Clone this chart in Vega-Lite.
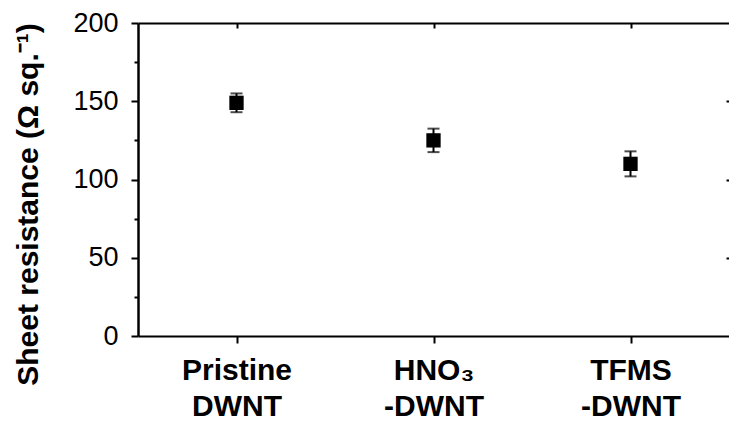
{
  "$schema": "https://vega.github.io/schema/vega-lite/v6.json",
  "autosize": "none",
  "width": 591,
  "height": 313,
  "padding": {"left": 138, "top": 23, "right": 0, "bottom": 85},
  "background": "white",
  "config": {
    "view": {"stroke": null},
    "font": "Liberation Sans",
    "axis": {"domain": true, "domainColor": "black", "domainWidth": 2, "tickColor": "black", "tickWidth": 1.5, "labelColor": "black", "titleColor": "black", "grid": false}
  },
  "data": {
    "values": [
      {"cat": "Pristine DWNT", "mean": 149, "lo": 143, "hi": 155},
      {"cat": "HNO₃ -DWNT", "mean": 125, "lo": 117.5, "hi": 132.5},
      {"cat": "TFMS -DWNT", "mean": 110, "lo": 102, "hi": 118}
    ]
  },
  "encoding": {
    "x": {"field": "cat", "type": "nominal", "sort": null,
          "scale": {"type": "point", "padding": 0.5}}
  },
  "layer": [
    {
      "mark": {"type": "rule", "color": "black", "strokeWidth": 2},
      "encoding": {
        "x": {"field": "cat", "type": "nominal", "sort": null,
              "axis": {"orient": "top", "labels": false, "title": null, "tickSize": -5, "tickWidth": 2}},
        "y": {"field": "lo", "type": "quantitative",
              "scale": {"domain": [0, 200], "nice": false, "zero": true},
              "axis": {"orient": "right", "domain": false, "labels": false, "title": null, "values": [50, 100, 150], "tickSize": -3, "tickWidth": 2}},
        "y2": {"field": "hi"}
      }
    },
    {
      "mark": {"type": "tick", "color": "black", "size": 12, "thickness": 2},
      "encoding": {
        "x": {"field": "cat", "type": "nominal", "sort": null, "axis": null},
        "y": {"field": "lo", "type": "quantitative", "axis": null}
      }
    },
    {
      "mark": {"type": "tick", "color": "black", "size": 12, "thickness": 2},
      "encoding": {
        "x": {"field": "cat", "type": "nominal", "sort": null, "axis": null},
        "y": {"field": "hi", "type": "quantitative", "axis": null}
      }
    },
    {
      "mark": {"type": "square", "filled": true, "color": "black", "opacity": 1, "size": 205},
      "encoding": {
        "x": {"field": "cat", "type": "nominal", "sort": null,
              "axis": {"orient": "bottom", "title": null, "labelAngle": 0, "tickSize": 7, "tickWidth": 2,
                       "labelExpr": "split(datum.label, ' ')", "labelFont": "Liberation Sans", "labelFontSize": 30, "labelFontWeight": "bold",
                       "labelBaseline": "top", "labelPadding": 12, "labelLineHeight": 36}},
        "y": {"field": "mean", "type": "quantitative",
              "axis": {"orient": "left", "domain": true, "domainColor": "black", "domainWidth": 2.5,
                       "values": [0, 25, 50, 75, 100, 125, 150, 175, 200],
                       "labelExpr": "datum.value % 50 == 0 ? datum.label : ''",
                       "tickSize": {"condition": {"test": "datum.value % 50 != 0", "value": 4}, "value": 7},
                       "tickWidth": 2,
                       "labelFontSize": 27, "labelPadding": 13,
                       "title": "Sheet resistance (Ω sq.⁻¹)", "titleFontSize": 30, "titleFontWeight": "bold",
                       "titleAngle": 270, "titleAlign": "center", "titleBaseline": "alphabetic", "titleX": -101, "titleY": 181}}
      }
    }
  ],
  "resolve": {"axis": {"x": "independent", "y": "independent"}}
}
